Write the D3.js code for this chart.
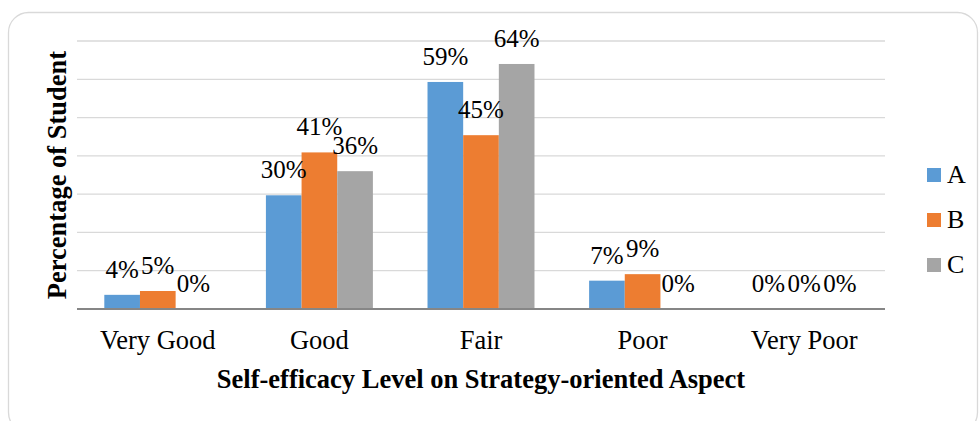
<!DOCTYPE html>
<html>
<head>
<meta charset="utf-8">
<script src="https://cdn.jsdelivr.net/npm/d3@7/dist/d3.min.js"></script>
<style>
  body { margin: 0; background: #fff; }
  svg text { font-family: "Liberation Serif", "Times New Roman", serif; fill: #000; }
</style>
</head>
<body>
<div id="chart"></div>
<script>
// categories on x axis
const levels = ['Very Good', 'Good', 'Fair', 'Poor', 'Very Poor'];
const seriesNames = ['A', 'B', 'C'];
// percentage of students per level
const valuesA = [3.7, 29.7, 59.3, 7.4, 0];
const valuesB = [4.7, 40.9, 45.4, 9.1, 0];
const valuesC = [0, 36.0, 64.0, 0, 0];
const gridTicks = [0, 10, 20, 30, 40, 50, 60, 70];

const colors = ['#5B9BD5', '#ED7D31', '#A5A5A5'];
const seriesValues = [valuesA, valuesB, valuesC];

const width = 979;
const height = 421;
const plot = { left: 77, right: 885, top: 41, bottom: 309 };

const svg = d3.select('#chart')
  .append('svg')
    .attr('width', width)
    .attr('height', height);

// outer rounded frame
svg.append('rect')
  .attr('x', 8.5)
  .attr('y', 12.5)
  .attr('width', 969)
  .attr('height', 420)
  .attr('rx', 20)
  .attr('fill', '#fff')
  .attr('stroke', '#d9d9d9')
  .attr('stroke-width', 1.3);

const x0 = d3.scaleBand()
  .domain(levels)
  .range([plot.left, plot.right])
  .paddingInner(0.338)
  .paddingOuter(0.169);

const x1 = d3.scaleBand()
  .domain(seriesNames)
  .range([0, x0.bandwidth()]);

const y = d3.scaleLinear()
  .domain([0, 70])
  .range([plot.bottom, plot.top]);

// grid lines
svg.append('g')
  .selectAll('line')
  .data(gridTicks.slice(1))
  .enter()
    .append('line')
      .attr('x1', plot.left)
      .attr('x2', plot.right)
      .attr('y1', d => y(d))
      .attr('y2', d => y(d))
      .attr('stroke', '#d9d9d9')
      .attr('stroke-width', 1.3);

const rows = levels.map((level, i) => ({
  level,
  items: seriesNames.map((s, j) => ({ series: s, value: seriesValues[j][i] }))
}));

const groups = svg.append('g')
  .selectAll('g')
  .data(rows)
  .enter()
    .append('g')
      .attr('transform', d => `translate(${x0(d.level)},0)`);

groups.selectAll('rect')
  .data(d => d.items)
  .enter()
    .append('rect')
      .attr('x', d => x1(d.series))
      .attr('y', d => y(d.value))
      .attr('width', x1.bandwidth())
      .attr('height', d => y(0) - y(d.value))
      .attr('fill', (d, i) => colors[i]);

// data labels
groups.selectAll('text')
  .data(d => d.items)
  .enter()
    .append('text')
      .attr('x', d => x1(d.series) + x1.bandwidth() / 2)
      .attr('y', d => y(d.value) - 17)
      .attr('text-anchor', 'middle')
      .style('font-size', '25px')
      .text(d => Math.round(d.value) + '%');

// x axis
const xAxis = svg.append('g')
  .attr('transform', `translate(0,${plot.bottom})`)
  .call(d3.axisBottom(x0).tickSize(0).tickPadding(0));
xAxis.select('.domain')
  .attr('stroke', '#868686')
  .attr('stroke-width', 2)
  .attr('d', `M${plot.left},0H${plot.right}`);
xAxis.selectAll('.tick text')
  .attr('dy', null)
  .attr('y', 40)
  .style('font-size', '26.5px')
  .style('font-family', '"Liberation Serif", "Times New Roman", serif')
  .attr('fill', '#000');

// axis titles
svg.append('text')
  .attr('x', (plot.left + plot.right) / 2)
  .attr('y', 388)
  .attr('text-anchor', 'middle')
  .style('font-size', '26.5px')
  .style('font-weight', 'bold')
  .text('Self-efficacy Level on Strategy-oriented Aspect');

svg.append('text')
  .attr('transform', `translate(66,${(plot.top + plot.bottom) / 2}) rotate(-90)`)
  .attr('text-anchor', 'middle')
  .style('font-size', '26.5px')
  .style('font-weight', 'bold')
  .text('Percentage of Student');

// legend
const legend = svg.append('g')
  .selectAll('g')
  .data(seriesNames)
  .enter()
    .append('g')
      .attr('transform', (d, i) => `translate(927,${168 + i * 45})`);
legend.append('rect')
  .attr('width', 14)
  .attr('height', 14)
  .attr('fill', (d, i) => colors[i]);
legend.append('text')
  .attr('x', 20)
  .attr('y', 15)
  .style('font-size', '26px')
  .text(d => d);
</script>
</body>
</html>
